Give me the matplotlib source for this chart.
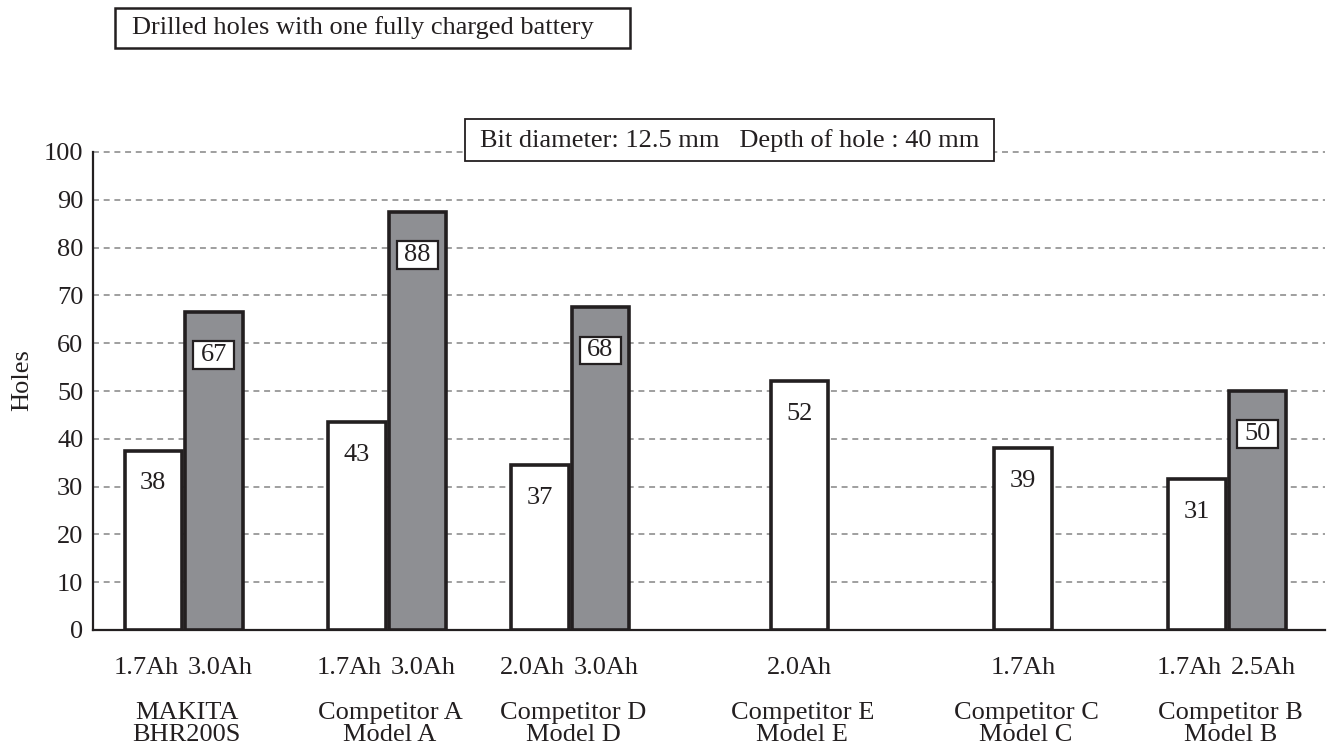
import matplotlib
matplotlib.use("Agg")
import matplotlib.pyplot as plt
from matplotlib.path import Path

# ---- data ----
groups = ["MAKITA\nBHR200S", "Competitor A\nModel A", "Competitor D\nModel D",
          "Competitor E\nModel E", "Competitor C\nModel C", "Competitor B\nModel B"]
battery_1 = ["1.7Ah", "1.7Ah", "2.0Ah", "2.0Ah", "1.7Ah", "1.7Ah"]
holes_1 = [37.5, 43.5, 34.5, 52, 38, 31.5]          # bar heights as drawn
holes_1_label = ["38", "43", "37", "52", "39", "31"]  # printed values
battery_2 = ["3.0Ah", "3.0Ah", "3.0Ah", None, None, "2.5Ah"]
holes_2 = [66.5, 87.5, 67.5, None, None, 50]
holes_2_label = ["67", "88", "68", None, None, "50"]
yticks = [0, 10, 20, 30, 40, 50, 60, 70, 80, 90, 100]
title = "Drilled holes with one fully charged battery"
condition = "Bit diameter: 12.5 mm   Depth of hole : 40 mm"
ylabel = "Holes"

# ---- layout ----
group_pos = [1.51, 4.90, 7.95, 11.77, 15.50, 18.90]
pair_off = 0.505
bar_w = 0.96
FONT = "Liberation Serif"
FS = 19
GRAY = "#8e8f93"
INK = "#231f20"

plt.rcParams["font.family"] = [FONT, "DejaVu Serif"]


def make_box(padl, padr, pady):
    def box(x0, y0, width, height, mutation_size):
        xa = x0 - padl * mutation_size
        xb = x0 + width + padr * mutation_size
        ya = y0 - pady * mutation_size
        yb = y0 + height + pady * mutation_size
        return Path([(xa, ya), (xb, ya), (xb, yb), (xa, yb), (xa, ya)],
                    closed=True)
    return box


fig = plt.figure(figsize=(13.33, 7.51), dpi=100)
ax = fig.add_axes([93 / 1333, 1 - 630 / 751, 1232 / 1333, 478 / 751])

ax.set_xlim(0, 20.53)
ax.set_ylim(0, 100)

for i, g in enumerate(groups):
    c = group_pos[i]
    if holes_2[i] is None:
        x1 = c
    else:
        x1 = c - pair_off
        x2 = c + pair_off
    ax.bar(x1, holes_1[i], width=bar_w, color="white", edgecolor=INK,
           linewidth=2.6, zorder=3)
    ax.annotate(holes_1_label[i], xy=(x1, holes_1[i]), xytext=(0, -23.5),
                textcoords="offset points", ha="center", va="center",
                fontsize=FS, color=INK, zorder=5)
    ax.text(x1 - (0.12 if holes_2[i] is not None else 0), -0.0795, battery_1[i],
            transform=ax.get_xaxis_transform(), ha="center", va="center",
            fontsize=FS, color=INK)
    if holes_2[i] is not None:
        ax.bar(x2, holes_2[i], width=bar_w, color=GRAY, edgecolor=INK,
               linewidth=2.6, zorder=3)
        ax.annotate(holes_2_label[i], xy=(x2, holes_2[i]), xytext=(0, -31),
                    textcoords="offset points", ha="center", va="center",
                    fontsize=FS, color=INK, zorder=5,
                    bbox=dict(boxstyle=make_box(0.28, 0.28, 0.11), fc="white",
                              ec=INK, lw=1.6))
        ax.text(x2 + 0.1, -0.0795, battery_2[i],
                transform=ax.get_xaxis_transform(), ha="center", va="center",
                fontsize=FS, color=INK)
    ax.text(c + 0.05, -0.197, g, transform=ax.get_xaxis_transform(), ha="center",
            va="center", fontsize=FS, color=INK, linespacing=1.0,
            multialignment="center")

# axes styling
ax.set_yticks(yticks)
ax.set_yticklabels([str(v) for v in yticks], fontsize=FS, color=INK)
ax.set_xticks([])
ax.tick_params(axis="y", length=0, pad=7)
for s in ["top", "right"]:
    ax.spines[s].set_visible(False)
ax.spines["left"].set_linewidth(1.6)
ax.spines["left"].set_color(INK)
ax.spines["bottom"].set_linewidth(1.6)
ax.spines["bottom"].set_color(INK)
ax.set_axisbelow(True)
ax.yaxis.grid(True, linestyle=(0, (3.9, 3.1)), linewidth=1.1, color="#858585")
for gl in ax.get_ygridlines():
    gl.set_clip_on(False)

ax.set_ylabel(ylabel, fontsize=FS, color=INK)
ax.yaxis.label.set_va("center")
ax.yaxis.set_label_coords(-0.0576, 0.523)

# condition box inside plot
ax.text(0.517, 102.5, condition, transform=ax.get_yaxis_transform(),
        ha="center", va="center", fontsize=FS, color=INK, zorder=6,
        bbox=dict(boxstyle=make_box(0.58, 0.55, 0.37), fc="white", ec=INK, lw=1.3))

# title box
fig.text(132 / 1333, 1 - 28 / 751, title, ha="left", va="center",
         fontsize=FS, color=INK,
         bbox=dict(boxstyle=make_box(0.64, 1.36, 0.33), fc="white", ec=INK, lw=1.8))

fig.savefig("out.png", dpi=100, facecolor="white")
